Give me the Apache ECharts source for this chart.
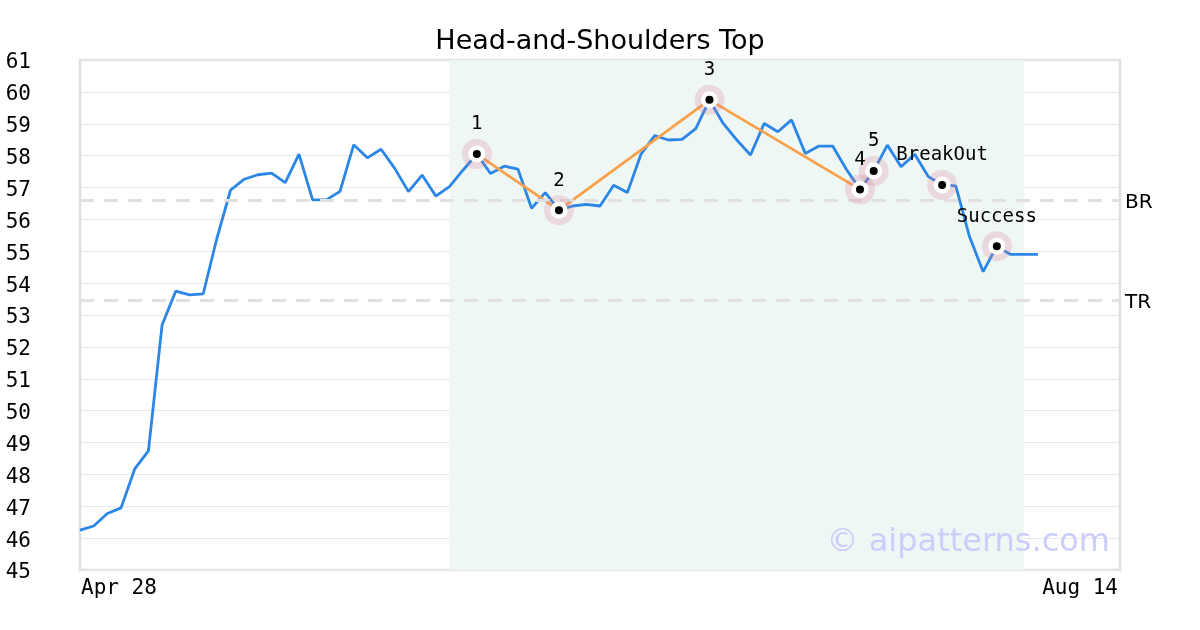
<!DOCTYPE html>
<html>
<head>
<meta charset="utf-8">
<script src="https://cdn.jsdelivr.net/npm/echarts@6/dist/echarts.min.js"></script>
<style>html,body{margin:0;padding:0;background:#fff}#c{width:1200px;height:630px}</style>
</head>
<body>
<div id="c"></div>
<script>
// Trading-day categories from Apr 28 to Aug 14 (weekdays)
const months = ['Jan','Feb','Mar','Apr','May','Jun','Jul','Aug','Sep','Oct','Nov','Dec'];
const categories = [];
(function(){
  const d = new Date(2023, 3, 28);
  const end = new Date(2023, 7, 14);
  while (d <= end) {
    const wd = d.getDay();
    if (wd !== 0 && wd !== 6) categories.push(months[d.getMonth()] + ' ' + d.getDate());
    d.setDate(d.getDate() + 1);
  }
})();

const priceValues = [
  46.25, 46.38, 46.77, 46.95, 48.17, 48.74, 52.69, 53.75, 53.63, 53.66,
  55.40, 56.92, 57.26, 57.40, 57.45, 57.15, 58.05, 56.61, 56.61, 56.88,
  58.34, 57.93, 58.20, 57.60, 56.87, 57.39, 56.73, 57.03, 57.55, 58.05,
  57.44, 57.67, 57.58, 56.35, 56.84, 56.29, 56.42, 56.47, 56.42, 57.07,
  56.84, 58.05, 58.63, 58.49, 58.51, 58.85, 59.75, 59.01, 58.49, 58.02,
  59.01, 58.75, 59.12, 58.07, 58.30, 58.30, 57.57, 56.94, 57.52, 58.33,
  57.65, 58.04, 57.34, 57.08, 57.05, 55.46, 54.36, 55.16, 54.90, 54.90,
  54.90
];

// pattern points: index into categories, value, label
const patternIdx = [29, 35, 46, 57, 58, 63, 67];
const patternVal = [58.05, 56.29, 59.75, 56.94, 57.52, 57.08, 55.16];
const patternLabels = ['1', '2', '3', '4', '5', 'BreakOut', 'Success'];

// orange shoulder/head path (points 1-4)
const pathIdx = [29, 35, 46, 57];
const pathVal = [58.05, 56.29, 59.75, 56.94];

const levelNames = ['BR', 'TR'];
const levelValues = [56.61, 53.47];

const shadeStartIdx = 27;
const shadeEndIdx = 69;

const yMin = 45, yMax = 61, yInterval = 1;

const mono = 'DejaVu Sans Mono';
const sans = 'DejaVu Sans';

const pts = patternIdx.map((i, k) => [categories[i], patternVal[k]]);
const pathData = pathIdx.map((i, k) => [categories[i], pathVal[k]]);
const lastIdx = categories.length - 1;

const chart = echarts.init(document.getElementById('c'));
chart.setOption({
  animation: false,
  backgroundColor: '#fff',
  title: {
    text: 'Head-and-Shoulders Top',
    left: 'center',
    top: 23,
    textStyle: { fontFamily: sans, fontSize: 27, fontWeight: 'normal', color: '#000' }
  },
  grid: {
    left: 80, right: 80, top: 60, bottom: 60,
    show: true, borderColor: '#e0e0e0', borderWidth: 2.5, backgroundColor: 'transparent'
  },
  xAxis: {
    type: 'category',
    data: categories,
    boundaryGap: false,
    axisLine: { show: false },
    axisTick: { show: false },
    splitLine: { show: false },
    axisLabel: {
      interval: function (index) { return index === 0 || index === lastIdx; },
      alignMinLabel: 'left',
      alignMaxLabel: 'right',
      fontFamily: mono, fontSize: 21, color: '#000', margin: 8,
      padding: [0, 2, 0, 1]
    }
  },
  yAxis: {
    type: 'value',
    min: yMin, max: yMax, interval: yInterval,
    axisLine: { show: false },
    axisTick: { show: false },
    splitLine: { show: true, lineStyle: { color: '#e8e8e8', width: 1 } },
    axisLabel: {
      margin: 49,
      formatter: function (v) { return '{t|' + v + '}'; },
      rich: { t: { fontFamily: mono, fontSize: 21, color: '#000', padding: [6, 0, 0, 0] } }
    }
  },
  graphic: [{
    type: 'text',
    right: 90,
    top: 527,
    style: { text: '© aipatterns.com', font: '32px "DejaVu Sans"', fill: '#cdcdfb' },
    z: 100
  }],
  series: [
    {
      type: 'line',
      data: priceValues,
      symbol: 'none',
      lineStyle: { color: '#2b86e6', width: 2.8 },
      z: 3,
      markArea: {
        silent: true,
        itemStyle: { color: '#eff7f4' },
        data: [[{ xAxis: categories[shadeStartIdx] }, { xAxis: categories[shadeEndIdx] }]]
      },
      markLine: {
        silent: true,
        symbol: 'none',
        lineStyle: { color: '#e0e0e0', width: 3, type: [14, 10] },
        label: {
          position: 'end', distance: 5,
          formatter: function (p) { return '{t|' + p.name + '}'; },
          rich: { t: { fontFamily: sans, fontSize: 20, color: '#000', padding: [6, 0, 0, 0] } }
        },
        data: levelValues.map((v, k) => ({ name: levelNames[k], yAxis: v }))
      }
    },
    {
      type: 'line',
      data: pathData,
      symbol: 'none',
      lineStyle: { color: '#f9a04a', width: 2.8 },
      z: 4
    },
    {
      type: 'scatter',
      data: pts,
      symbol: 'circle',
      symbolSize: 30,
      itemStyle: { color: 'rgba(215,120,145,0.24)', opacity: 1 },
      z: 5
    },
    {
      type: 'scatter',
      data: pts,
      symbol: 'circle',
      symbolSize: 17,
      itemStyle: { color: '#ffffff', opacity: 1 },
      z: 6
    },
    {
      type: 'scatter',
      data: pts,
      symbol: 'circle',
      symbolSize: 8,
      itemStyle: { color: '#000000', opacity: 1 },
      z: 7,
      label: {
        show: true,
        position: 'top',
        distance: 16,
        fontFamily: mono, fontSize: 19, color: '#000',
        formatter: function (p) { return patternLabels[p.dataIndex]; }
      }
    }
  ]
});
</script>
</body>
</html>
